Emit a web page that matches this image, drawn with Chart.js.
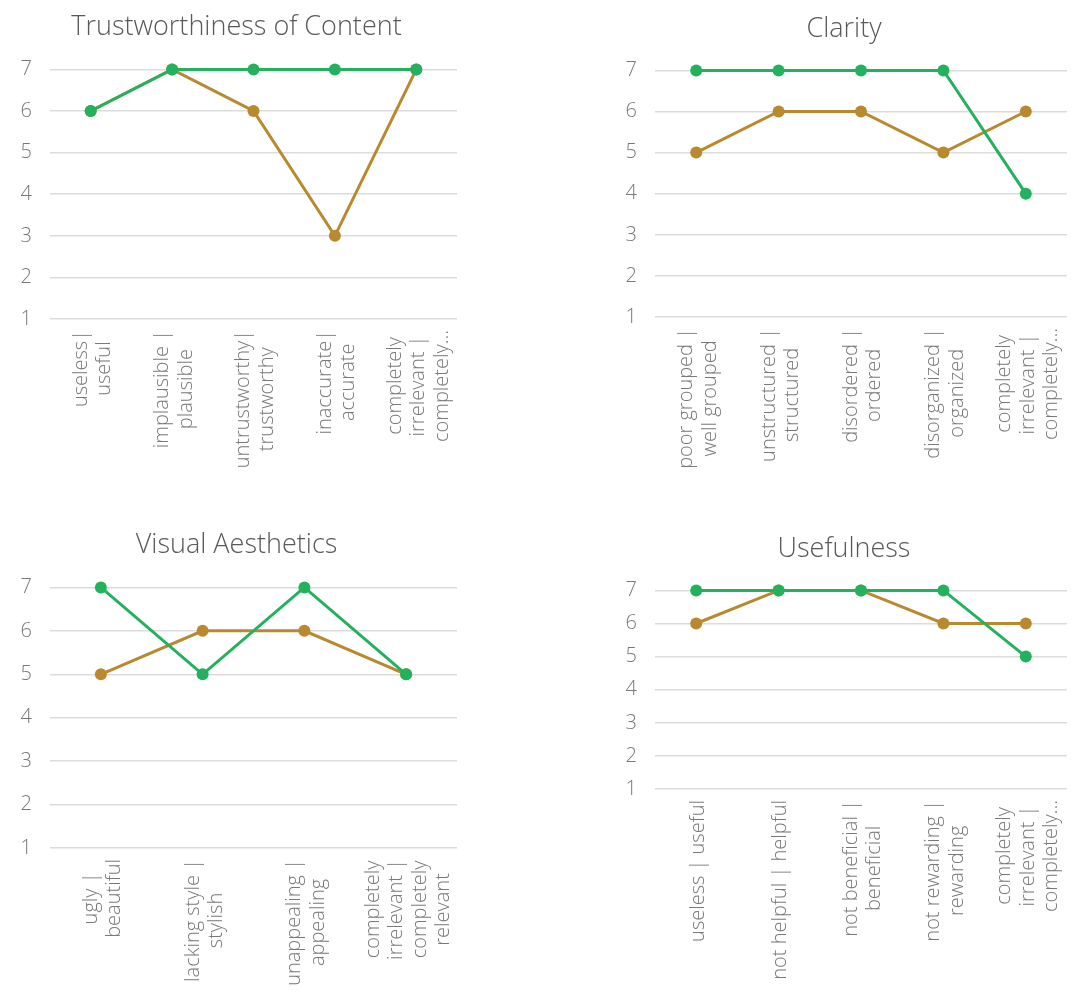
<!DOCTYPE html>
<html>
<head>
<meta charset="utf-8">
<script src="https://cdn.jsdelivr.net/npm/chart.js@4.4.1/dist/chart.umd.min.js"></script>
<style>
  html, body { margin: 0; padding: 0; background: #fff; overflow: hidden; }
  canvas { position: absolute; }
</style>
</head>
<body>
<canvas id="trustChart" width="537" height="497" style="left:0;top:0"></canvas>
<canvas id="clarityChart" width="537" height="497" style="left:537px;top:0"></canvas>
<canvas id="visualChart" width="537" height="496" style="left:0;top:497px"></canvas>
<canvas id="usefulChart" width="537" height="496" style="left:537px;top:497px"></canvas>
<script>
// Data
const trustLabels = [['useless|', 'useful'], ['implausible |', 'plausible'], ['untrustworthy|', 'trustworthy'], ['inaccurate|', 'accurate'], ['completely', 'irrelevant |', 'completely…']];
const trustA = [6, 7, 7, 7, 7];
const trustB = [6, 7, 6, 3, 7];

const clarityLabels = [['poor grouped |', 'well grouped'], ['unstructured |', 'structured'], ['disordered |', 'ordered'], ['disorganized |', 'organized'], ['completely', 'irrelevant |', 'completely…']];
const clarityA = [7, 7, 7, 7, 4];
const clarityB = [5, 6, 6, 5, 6];

const visualLabels = [['ugly |', 'beautiful'], ['lacking style |', 'stylish'], ['unappealing |', 'appealing'], ['completely', 'irrelevant |', 'completely', 'relevant']];
const visualA = [7, 5, 7, 5];
const visualB = [5, 6, 6, 5];

const usefulLabels = [['useless | useful'], ['not helpful | helpful'], ['not beneficial |', 'beneficial'], ['not rewarding |', 'rewarding'], ['completely', 'irrelevant |', 'completely…']];
const usefulA = [7, 7, 7, 7, 5];
const usefulB = [6, 7, 7, 6, 6];

const scaleMin = 1;
const scaleMax = 7;

const GREEN = '#23b15e';
const GOLD = '#b8892e';
const FONT = '"Open Sans", Lato, sans-serif';

// draws the rotated category labels with lines centred on each other, like Excel does
const centeredXLabels = {
  id: 'centeredXLabels',
  afterDraw(chart, args, opts) {
    const xs = chart.scales.x;
    const ctx = chart.ctx;
    ctx.save();
    ctx.font = opts.font;
    ctx.fillStyle = opts.color;
    ctx.textAlign = 'center';
    ctx.textBaseline = 'middle';
    chart.data.labels.forEach((label, i) => {
      const lines = Array.isArray(label) ? label : [label];
      const px = xs.getPixelForTick(i) + opts.shift;
      const longest = Math.max(...lines.map(l => ctx.measureText(l).width));
      const cy = xs.top + opts.gap + longest / 2;
      lines.forEach((line, j) => {
        ctx.save();
        ctx.translate(px + (j - (lines.length - 1) / 2) * opts.lineHeight, cy);
        ctx.rotate(-Math.PI / 2);
        ctx.fillText(line, 0, 0);
        ctx.restore();
      });
    });
    ctx.restore();
  }
};

function makeChart(id, title, labels, seriesA, seriesB, box) {
  return new Chart(document.getElementById(id), {
    type: 'line',
    data: {
      labels: labels,
      datasets: [
        {
          label: 'A',
          data: seriesA,
          borderColor: GREEN,
          backgroundColor: GREEN,
          borderWidth: 3,
          pointRadius: 6,
          pointHoverRadius: 6,
          pointBorderWidth: 0,
          tension: 0,
          clip: false
        },
        {
          label: 'B',
          data: seriesB,
          borderColor: GOLD,
          backgroundColor: GOLD,
          borderWidth: 3,
          pointRadius: 6,
          pointHoverRadius: 6,
          pointBorderWidth: 0,
          tension: 0,
          clip: false
        }
      ]
    },
    options: {
      responsive: false,
      animation: false,
      layout: {
        padding: { left: box.padL, right: box.padR, top: 0, bottom: 0 }
      },
      plugins: {
        legend: { display: false },
        tooltip: { enabled: false },
        title: {
          display: true,
          text: title,
          color: '#595959',
          font: { family: FONT, size: 27, weight: '300' },
          padding: { top: box.titleTop, bottom: box.titleBottom }
        },
        centeredXLabels: {
          font: '300 20px ' + FONT,
          color: '#787878',
          gap: 11,
          lineHeight: 23.5,
          shift: 2
        }
      },
      scales: {
        x: {
          offset: true,
          grid: { display: false },
          border: { display: false },
          ticks: { display: false },
          afterFit: scale => { scale.height = box.xHeight; }
        },
        y: {
          min: scaleMin,
          max: scaleMax,
          grid: { color: '#dcdcdc', lineWidth: 1.5, drawTicks: false },
          border: { display: false },
          ticks: {
            stepSize: 1,
            padding: 18,
            color: '#787878',
            font: { family: FONT, size: 20, weight: '300' }
          },
          afterFit: scale => { scale.width = box.yWidth; }
        }
      }
    },
    plugins: [centeredXLabels]
  });
}

makeChart('trustChart', 'Trustworthiness of Content', trustLabels, trustA, trustB,
  { padL: 16, padR: 80, yWidth: 34, xHeight: 178, titleTop: 11, titleBottom: 26 });
makeChart('clarityChart', 'Clarity', clarityLabels, clarityA, clarityB,
  { padL: 84, padR: 7, yWidth: 34, xHeight: 180, titleTop: 13, titleBottom: 25 });
makeChart('visualChart', 'Visual Aesthetics', visualLabels, visualA, visualB,
  { padL: 16, padR: 80, yWidth: 34, xHeight: 145, titleTop: 32, titleBottom: 26 });
makeChart('usefulChart', 'Usefulness', usefulLabels, usefulA, usefulB,
  { padL: 84, padR: 7, yWidth: 34, xHeight: 204, titleTop: 36, titleBottom: 25 });
</script>
</body>
</html>
